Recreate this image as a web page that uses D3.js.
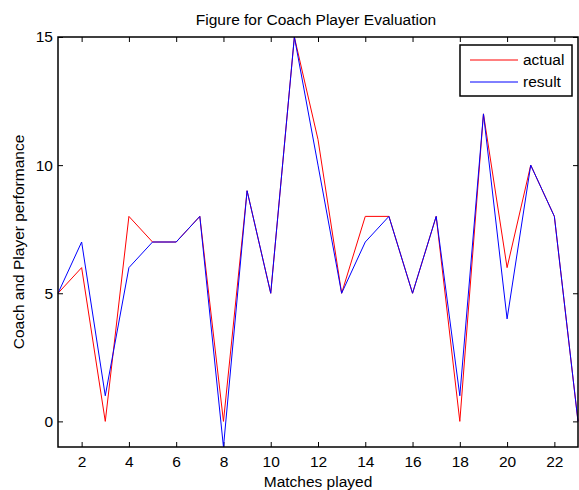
<!DOCTYPE html>
<html>
<head>
<meta charset="utf-8">
<script src="https://cdn.jsdelivr.net/npm/d3@7"></script>
<style>
  body { margin: 0; background: #fff; }
  text { font-family: "Liberation Sans", Arial, sans-serif; fill: #000; }
</style>
</head>
<body>
<div id="chart"></div>
<script>
// match numbers 1..23
var matches = d3.range(1, 24);
var actual = [5, 6, 0, 8, 7, 7, 8, 0, 9, 5, 15, 11, 5, 8, 8, 5, 8, 0, 12, 6, 10, 8, 0];
var result = [5, 7, 1, 6, 7, 7, 8, -1, 9, 5, 15, 10, 5, 7, 8, 5, 8, 1, 12, 4, 10, 8, 0];
var xTicks = [2, 4, 6, 8, 10, 12, 14, 16, 18, 20, 22];
var yTicks = [0, 5, 10, 15];
var seriesNames = ["actual", "result"];
var seriesColors = ["#ff0000", "#0000ff"];

var W = 579, H = 490;
var pL = 58, pR = 578, pT = 37, pB = 447;
var fs = 15.5;

var svg = d3.select("#chart").append("svg")
    .attr("width", W)
    .attr("height", H);

svg.append("rect").attr("width", W).attr("height", H).attr("fill", "white");

var x = d3.scaleLinear().domain([1, 23]).range([pL, pR]);
var y = d3.scaleLinear().domain([-1, 15]).range([pB, pT]);

// axes with inward ticks on all four sides
var tickLen = 5;
svg.append("g").attr("transform", "translate(0," + pB + ")")
    .call(d3.axisBottom(x).tickValues(xTicks).tickSize(-tickLen).tickSizeOuter(0))
    .call(function (g) {
        g.select(".domain").remove();
        g.selectAll("text").attr("font-size", fs).attr("font-family", "Liberation Sans, Arial")
            .attr("y", 20).attr("dy", 0);
    });
svg.append("g").attr("transform", "translate(0," + pT + ")")
    .call(d3.axisTop(x).tickValues(xTicks).tickSize(-tickLen).tickFormat("").tickSizeOuter(0))
    .call(function (g) { g.select(".domain").remove(); });
svg.append("g").attr("transform", "translate(" + pL + ",0)")
    .call(d3.axisLeft(y).tickValues(yTicks).tickSize(-tickLen).tickPadding(5).tickSizeOuter(0))
    .call(function (g) {
        g.select(".domain").remove();
        g.selectAll("text").attr("font-size", fs).attr("font-family", "Liberation Sans, Arial");
    });
svg.append("g").attr("transform", "translate(" + pR + ",0)")
    .call(d3.axisRight(y).tickValues(yTicks).tickSize(-tickLen).tickFormat("").tickSizeOuter(0))
    .call(function (g) { g.select(".domain").remove(); });

// lines
var line = d3.line()
    .x(function (d, i) { return x(matches[i]); })
    .y(function (d) { return y(d); });

[actual, result].forEach(function (s, k) {
    svg.append("path")
        .attr("d", line(s))
        .attr("fill", "none")
        .attr("stroke", seriesColors[k])
        .attr("stroke-width", 1);
});

// box
svg.append("rect")
    .attr("x", pL).attr("y", pT)
    .attr("width", pR - pL).attr("height", pB - pT)
    .attr("fill", "none").attr("stroke", "black").attr("stroke-width", 1.5);

// legend
var lg = svg.append("g");
lg.append("rect")
    .attr("x", 460).attr("y", 45).attr("width", 112).attr("height", 51)
    .attr("fill", "white").attr("stroke", "black").attr("stroke-width", 1.5);
seriesNames.forEach(function (name, k) {
    var ly = 60 + k * 22;
    lg.append("line")
        .attr("x1", 470).attr("x2", 518).attr("y1", ly).attr("y2", ly)
        .attr("stroke", seriesColors[k]).attr("stroke-width", 1);
    lg.append("text")
        .attr("x", 523).attr("y", ly + 5)
        .attr("font-size", fs)
        .text(name);
});

// titles
svg.append("text")
    .attr("x", (pL + pR) / 2 - 2).attr("y", 25)
    .attr("text-anchor", "middle").attr("font-size", fs)
    .text("Figure for Coach Player Evaluation");
svg.append("text")
    .attr("x", (pL + pR) / 2).attr("y", 487)
    .attr("text-anchor", "middle").attr("font-size", fs)
    .text("Matches played");
svg.append("text")
    .attr("transform", "translate(24," + ((pT + pB) / 2) + ") rotate(-90)")
    .attr("text-anchor", "middle").attr("font-size", fs)
    .text("Coach and Player performance");
</script>
</body>
</html>
